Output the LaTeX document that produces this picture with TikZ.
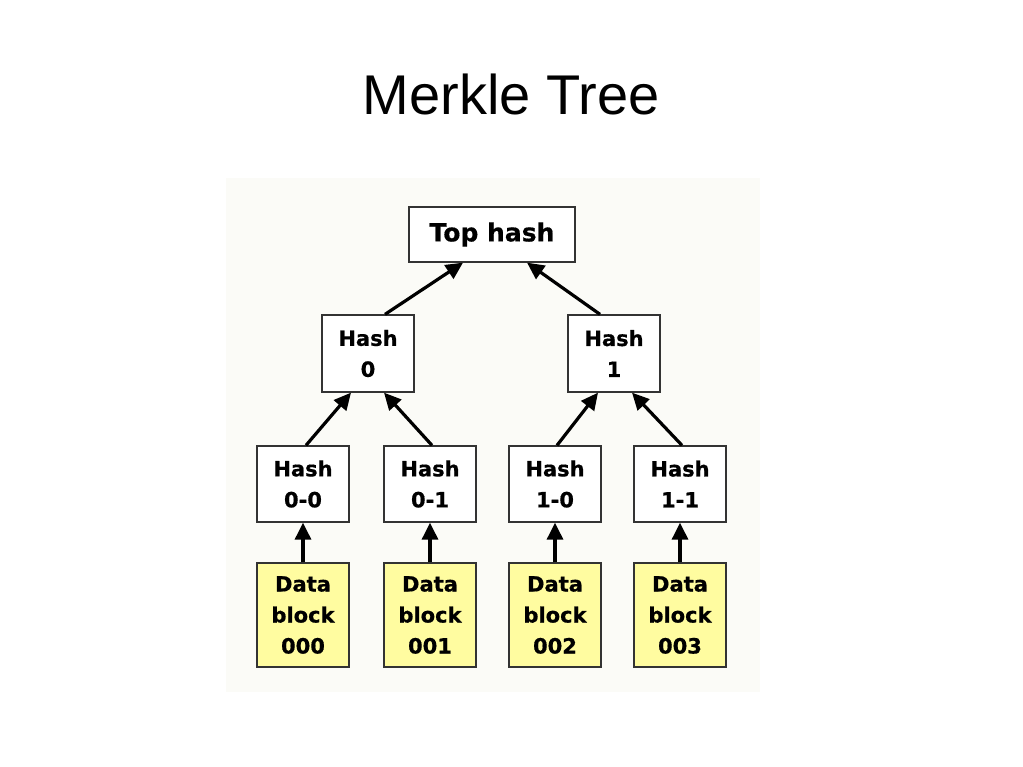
\documentclass[tikz,border=0pt]{standalone}
\usepackage{fontspec}
\setmainfont{Liberation Sans}
\newfontfamily\boxfont[BoldFeatures={FakeBold=0.6}]{DejaVu Sans}
\usetikzlibrary{positioning, calc, arrows.meta}
\definecolor{blockyellow}{RGB}{255,252,160}
\definecolor{panelgray}{RGB}{251,251,247}

\begin{document}
\begin{tikzpicture}[x=1pt, y=-1pt,
        hashbox/.style={draw=black!80, line width=1.3pt, fill=white, inner sep=0pt,
            align=center, minimum width=92pt, minimum height=76pt,
            font=\boxfont\bfseries\fontsize{21}{31}\selectfont},
        databox/.style={hashbox, fill=blockyellow, minimum height=104pt},
        uparrow/.style={-{Triangle[length=17pt,width=16pt]}, line width=3.2pt}]
                \fill[white] (0,0) rectangle (1023,767);
                \useasboundingbox (0,0) rectangle (1023,767);
                \node[anchor=base, font=\fontsize{56}{60}\selectfont] (title) at (511,115) {Merkle Tree};
                \fill[panelgray] (226,178) rectangle (760,692);

                \node[hashbox, minimum width=166pt, minimum height=55pt,
                      font=\boxfont\bfseries\fontsize{25}{28}\selectfont] (top) at (492,234.5) {Top hash};

                \node[hashbox, minimum height=77pt] (h0) at (368,353.5) {Hash\\0};
                \node[hashbox, minimum height=77pt] (h1) at (614,353.5) {Hash\\1};

                \node[hashbox] (h00) at (303,484) {Hash\\0-0};
                \node[hashbox] (h01) at (430,484) {Hash\\0-1};
                \node[hashbox] (h10) at (555,484) {Hash\\1-0};
                \node[hashbox] (h11) at (680,484) {Hash\\1-1};

                \node[databox] (d000) at (303,615) {Data\\block\\000};
                \node[databox] (d001) at (430,615) {Data\\block\\001};
                \node[databox] (d002) at (555,615) {Data\\block\\002};
                \node[databox] (d003) at (680,615) {Data\\block\\003};

                \draw[uparrow] ($(h0.north)+(17,0)$) -- ($(top.south)+(-29,0)$);
                \draw[uparrow] ($(h1.north)+(-14,0)$) -- ($(top.south)+(35,0)$);

                \draw[uparrow] ($(h00.north)+(3,0)$) -- ($(h0.south)+(-17,0)$);
                \draw[uparrow] ($(h01.north)+(2,0)$) -- ($(h0.south)+(16,0)$);
                \draw[uparrow] ($(h10.north)+(2,0)$) -- ($(h1.south)+(-16,0)$);
                \draw[uparrow] ($(h11.north)+(2,0)$) -- ($(h1.south)+(18,0)$);

                \draw[uparrow] (d000.north) -- (h00.south);
                \draw[uparrow] (d001.north) -- (h01.south);
                \draw[uparrow] (d002.north) -- (h10.south);
                \draw[uparrow] (d003.north) -- (h11.south);
            \end{tikzpicture}
\end{document}
